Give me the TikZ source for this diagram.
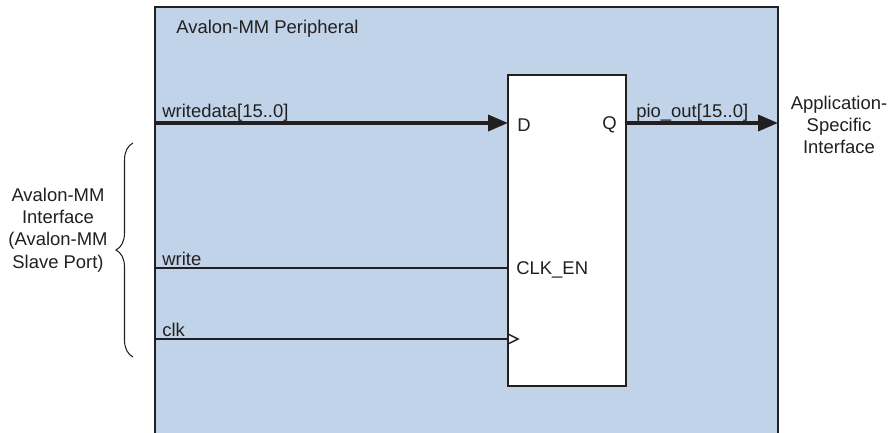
\documentclass[tikz,border=0pt]{standalone}
\usepackage{fontspec}
\setmainfont{Liberation Sans}
\usetikzlibrary{arrows.meta, positioning, decorations.pathreplacing}
\definecolor{periph}{RGB}{193,211,232}
\definecolor{ink}{RGB}{35,31,32}

\begin{document}
\begin{tikzpicture}[
    x=0.02cm, y=-0.02cm,
    lbl/.style={font=\fontsize{10.5}{12.7}\selectfont, text=ink, inner sep=0pt},
    wire/.style={draw=ink, line width=0.8pt},
    bus/.style={draw=ink, line width=2pt},
    >={Triangle[length=0.4cm, width=0.32cm]}
  ]
  \useasboundingbox (0,0) rectangle (890,433);

  % peripheral block, open at the bottom
  \fill[periph] (155,7) rectangle (778,433);
  \draw[wire] (155,433) -- (155,7) -- (778,7) -- (778,433);
  \node[lbl, anchor=base west] (title) at (176,33) {Avalon-MM Peripheral};

  % register
  \node[wire, fill=white, anchor=north west, inner sep=0pt, outer sep=0pt,
        minimum width=2.36cm, minimum height=6.22cm] (reg) at (508,75) {};
  \node[lbl, anchor=west] (dpin) at (517,125) {D};
  \node[lbl, anchor=east] (qpin) at (617,125) {Q};
  \node[lbl, anchor=west] (enpin) at (516,270) {CLK\_EN};

  % data in and out
  \coordinate (wd) at (155,123);
  \coordinate (po) at (778,123);
  \draw[bus, ->] (wd) -- (wd -| reg.west);
  \draw[bus, ->] (reg.east |- po) -- (po);
  \node[lbl, anchor=base west] (wdl) at (162,117) {writedata[15..0]};
  \node[lbl, anchor=base west] (pol) at (636,117) {pio\_out[15..0]};

  % control inputs
  \foreach \y/\s/\n in {268/write/wr, 339/clk/ck} {
    \coordinate (\n) at (155,\y);
    \draw[wire] (\n) -- (\n -| reg.west);
    \node[lbl, anchor=base west] (\n l) at (162,\y-3) {\s};
  }
  % clock mark
  \draw[wire, line join=miter] ([yshift=0.1cm]reg.west |- ck) -- ++(10,5) -- ++(-10,5);

  \node[lbl, align=center] (app) at (839,125)
    {Application-\\Specific\\Interface};

  % slave port brace
  \coordinate (bt) at (133,143);
  \coordinate (bb) at (133,357);
  \draw[wire, line width=0.6pt, decorate, decoration={brace, amplitude=0.34cm}]
    (bb) -- (bt);
  \node[lbl, align=center] (mmif) at (58,230)
    {Avalon-MM\\Interface\\(Avalon-MM\\Slave Port)};
\end{tikzpicture}
\end{document}
